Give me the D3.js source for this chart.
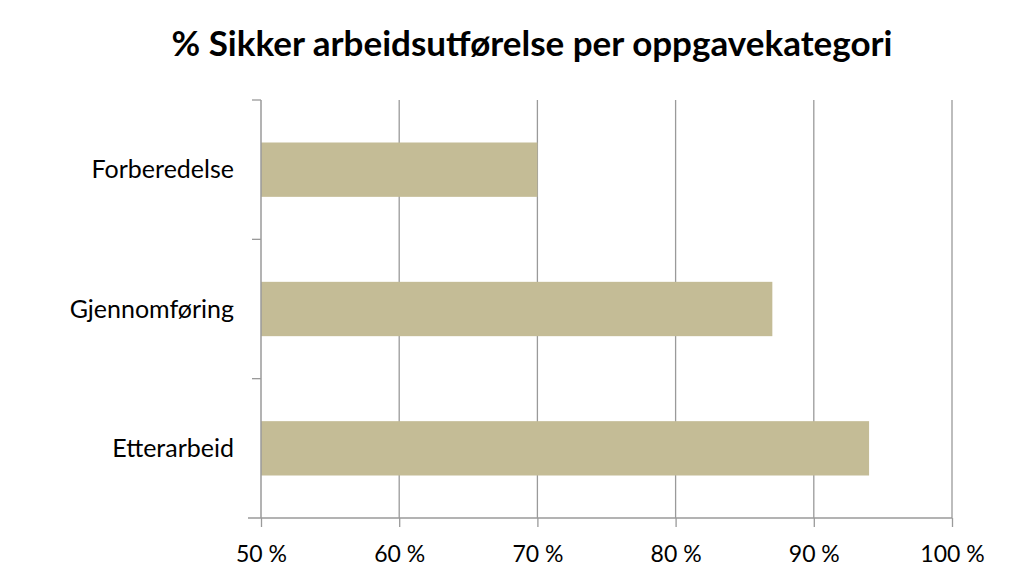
<!DOCTYPE html>
<html><head><meta charset="utf-8">
<script src="https://cdn.jsdelivr.net/npm/d3@7/dist/d3.min.js"></script>
<style>body{margin:0;background:#fff}svg{display:block}</style>
</head><body><svg id="c" width="1016" height="574"></svg>
<script>
const categories = ["Forberedelse", "Gjennomføring", "Etterarbeid"];
const values = [70, 87, 94];
const xTicks = [50, 60, 70, 80, 90, 100];
const title = "% Sikker arbeidsutførelse per oppgavekategori";

const svg = d3.select("#c");
const m = {left: 261, right: 952, top: 100, bottom: 518};
const x = d3.scaleLinear().domain([50, 100]).range([m.left, m.right]);
const y = d3.scaleBand().domain(categories).range([m.top, m.bottom]).paddingInner(0.61).paddingOuter(0.305);
const yb = d3.scaleBand().domain(categories).range([m.top, m.bottom]);
const font = "Lato, 'Open Sans', sans-serif";

// gridlines
svg.append("g").selectAll("line").data(xTicks.slice(1)).join("line")
  .attr("x1", d => x(d)).attr("x2", d => x(d))
  .attr("y1", m.top).attr("y2", m.bottom)
  .attr("stroke", "#9a9a9a").attr("stroke-width", 1.3);

// bars
svg.append("g").selectAll("rect").data(categories).join("rect")
  .attr("x", x(50)).attr("y", d => y(d))
  .attr("width", (d, i) => x(values[i]) - x(50))
  .attr("height", y.bandwidth())
  .attr("fill", "#c4bc96");

// x axis
const xa = svg.append("g").attr("transform", `translate(0,${m.bottom})`)
  .call(d3.axisBottom(x).tickValues(xTicks).tickSize(9).tickFormat(d => d + " %"));
xa.select(".domain").remove();
xa.append("line").attr("x1", 248).attr("x2", m.right).attr("stroke", "#9a9a9a").attr("stroke-width", 1.5);
xa.selectAll(".tick line").attr("stroke", "#9a9a9a").attr("stroke-width", 1.3);
xa.selectAll(".tick text").attr("fill", "#000").attr("font-family", font).attr("font-size", 23).attr("y", 9).attr("dy", 35);

// y axis
const ya = svg.append("g").attr("transform", `translate(${m.left},0)`);
ya.append("line").attr("y1", m.top).attr("y2", m.bottom).attr("stroke", "#9a9a9a").attr("stroke-width", 1.5);
const yEdges = categories.map(c => yb(c));
ya.selectAll("line.t").data(yEdges).join("line").attr("class", "t")
  .attr("x1", -9).attr("x2", 0).attr("y1", d => d).attr("y2", d => d)
  .attr("stroke", "#9a9a9a").attr("stroke-width", 1.3);
ya.selectAll("text").data(categories).join("text")
  .attr("x", -27).attr("y", d => yb(d) + yb.bandwidth() / 2)
  .attr("dy", 8.5).attr("text-anchor", "end")
  .attr("font-family", font).attr("font-size", 25).attr("fill", "#000")
  .text(d => d);

// title
svg.append("text").attr("x", 532).attr("y", 56).attr("text-anchor", "middle")
  .attr("font-family", font).attr("font-weight", "bold").attr("font-size", 35)
  .attr("fill", "#000").text(title);
</script></body></html>
